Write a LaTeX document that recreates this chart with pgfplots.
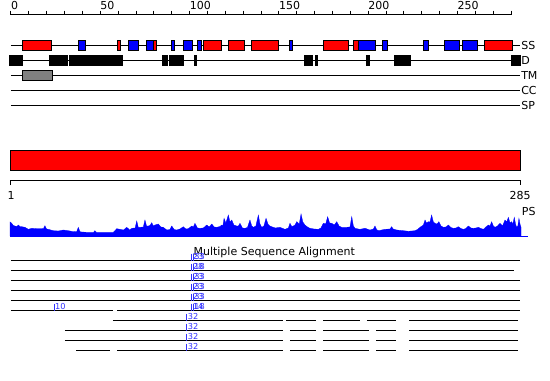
\documentclass[border=0pt]{standalone}
\usepackage{fontspec}
\setmainfont{DejaVu Sans}
\usepackage{pgfplots}
\pgfplotsset{compat=1.18}
\definecolor{mblue}{RGB}{50,50,255}
\newcommand{\bx}[5]{\addplot[draw=black, fill=#3, line width=1pt] coordinates {(#1,#4) (#2,#4) (#2,#5) (#1,#5)} -- cycle;}
\begin{document}
\begin{tikzpicture}
\begin{axis}[hide axis, scale only axis, width=550pt, height=380pt,
  xmin=-6.159, xmax=301.80, ymin=0, ymax=380, y dir=reverse, clip=false,
  unbounded coords=jump, every axis plot/.append style={line width=1pt}]
% ruler
\addplot[black] coordinates {(0,14) (280,14)};
\addplot[black, only marks, mark=|, mark size=2.25pt] coordinates {(0,12.75) (10,12.75) (20,12.75) (30,12.75) (40,12.75) (50,12.75) (60,12.75) (70,12.75) (80,12.75) (90,12.75) (100,12.75) (110,12.75) (120,12.75) (130,12.75) (140,12.75) (150,12.75) (160,12.75) (170,12.75) (180,12.75) (190,12.75) (200,12.75) (210,12.75) (220,12.75) (230,12.75) (240,12.75) (250,12.75) (260,12.75) (270,12.75) (280,12.75)};
\pgfplotsinvokeforeach{0,50,100,150,200,250}{\node[anchor=base west, inner sep=0pt, font=\fontsize{11}{13}\selectfont] at (axis cs:#1,9.5) {#1};}
% track lines
\addplot[black] coordinates {(0,45) (285,45)};
\addplot[black] coordinates {(-0.6,60.3) (285.4,60.3)};
\addplot[black] coordinates {(0,75.3) (285,75.3)};
\addplot[black] coordinates {(0,90) (285,90)};
\addplot[black] coordinates {(0,105.3) (285,105.3)};
% SS
\bx{6.3}{22.8}{red}{40}{50}
\bx{37.7}{41.8}{blue}{40}{50}
\bx{59.5}{61.2}{red}{40}{50}
\bx{65.7}{71.3}{blue}{40}{50}
\bx{75.8}{79.9}{blue}{40}{50}
\bx{79.9}{81.4}{red}{40}{50}
\bx{89.6}{91.4}{blue}{40}{50}
\bx{96.5}{101.7}{blue}{40}{50}
\bx{104.3}{106.9}{blue}{40}{50}
\bx{107.7}{118}{red}{40}{50}
\bx{121.7}{130.6}{red}{40}{50}
\bx{134.4}{149.7}{red}{40}{50}
\bx{155.7}{157.5}{blue}{40}{50}
\bx{175.1}{189.1}{red}{40}{50}
\bx{191.7}{194.5}{red}{40}{50}
\bx{194.5}{204.2}{blue}{40}{50}
\bx{207.9}{210.9}{blue}{40}{50}
\bx{230.9}{233.9}{blue}{40}{50}
\bx{242.6}{251}{blue}{40}{50}
\bx{252.7}{261.1}{blue}{40}{50}
\bx{265}{280.9}{red}{40}{50}
% D
\bx{-0.6}{6.5}{black}{55}{65.5}
\bx{21.4}{29.7}{black}{55}{65.5}
\bx{30.4}{31.7}{black}{55}{65.5}
\bx{32.5}{62.5}{black}{55}{65.5}
\bx{84.7}{87.7}{black}{55}{65.5}
\bx{88.5}{96.7}{black}{55}{65.5}
\bx{102.5}{104}{black}{55}{65.5}
\bx{164.6}{168.9}{black}{55}{65.5}
\bx{170.6}{171.7}{black}{55}{65.5}
\bx{198.8}{200.8}{black}{55}{65.5}
\bx{214.6}{223.8}{black}{55}{65.5}
\bx{280.5}{285.4}{black}{55}{65.5}
% TM
\bx{6.3}{23.1}{gray}{70}{80.5}
% right labels
\node[anchor=west, inner sep=0pt, font=\fontsize{11}{13}\selectfont] at (axis cs:285.6,45.5) {SS};
\node[anchor=west, inner sep=0pt, font=\fontsize{11}{13}\selectfont] at (axis cs:285.6,60.5) {D};
\node[anchor=west, inner sep=0pt, font=\fontsize{11}{13}\selectfont] at (axis cs:285.6,75.5) {TM};
\node[anchor=west, inner sep=0pt, font=\fontsize{11}{13}\selectfont] at (axis cs:285.6,90.3) {CC};
\node[anchor=west, inner sep=0pt, font=\fontsize{11}{13}\selectfont] at (axis cs:285.6,105.5) {SP};
% red bar and scale
\bx{0}{285}{red}{150}{170}
\addplot[black] coordinates {(0,185) (0,180.7) (285,180.7) (285,185)};
\node[anchor=center, inner sep=0pt, font=\fontsize{11}{13}\selectfont] at (axis cs:0,195) {1};
\node[anchor=center, inner sep=0pt, font=\fontsize{11}{13}\selectfont] at (axis cs:285,195) {285};
\node[anchor=west, inner sep=0pt, font=\fontsize{11}{13}\selectfont] at (axis cs:285.96,211) {PS};
% PS profile
\addplot[blue, fill=blue, line width=0.3pt] table[x=r, y expr={236-\thisrow{h}}] {
r h
-0.5 0
-0.5 14
0.4 12.7
1.3 10.5
2.2 10
3.2 9.5
4.1 11
5.0 9.5
6.0 9.3
7.8 8.7
9.7 6.7
11.6 7.7
14.4 7.3
17.2 7.3
18.2 7.5
19.0 10.3
19.9 7
20.9 6.7
23.7 5.3
26.5 5
29.3 6
32.1 5.3
34.9 4.3
36.8 4.5
37.7 8.7
38.6 4.3
39.6 4
42.4 3.7
46.2 3.7
47.0 5.3
47.9 3.7
49.8 3.7
57.3 3.7
59.2 7.3
61.0 6.7
63.0 6
64.8 8.7
66.5 6
67.6 7.7
69.5 8
70.4 15
71.3 8.5
72.2 8.7
74.1 9
75.0 16
75.9 10
76.9 10
77.8 10.5
78.8 13.3
79.7 10
80.6 11
82.5 12
83.9 9
85.3 8.7
87.2 6
89.0 6.5
90.0 10
91.4 6.5
92.8 6
94.6 7
96.5 9.3
97.9 7
99.3 7.3
101.2 10
102.1 9
103.0 12.7
104.4 8
105.8 7.7
107.7 8
109.6 11
111.0 9
112.4 12
113.8 9
115.2 8.7
117.0 9.5
118.0 11
118.6 10
119.3 17.7
120.3 13
121.7 21
122.6 14
123.6 16
124.8 11
126.4 10
127.3 10
128.2 12.7
129.6 8
131.0 7.7
132.4 8.5
133.8 16
134.8 10
135.7 8.7
137.1 10
138.5 21
139.4 12
140.4 8.7
141.6 10
142.8 17.7
143.9 12
145.0 10
146.4 9
148.0 8
150.6 8.7
153.4 6.7
155.3 8
156.2 12.7
157.2 9.5
158.1 10
159.0 11
160.0 14.3
161.4 12
162.4 22
163.4 14
164.6 11
166.0 9
167.4 7.7
169.7 7
172.1 6.7
173.5 8
174.9 12.7
176.2 12
177.3 19.3
178.4 13
179.6 12.7
181.0 11
182.4 14.3
183.7 10
185.2 8.7
187.9 8.7
189.8 9
190.8 19.3
191.7 10
192.6 7.7
195.4 6.7
198.2 7.7
201.0 6
202.9 7
203.8 10
204.7 6.5
205.7 5.3
209.4 6.7
212.2 7
213.1 9.3
214.0 7
215.9 6
219.7 5.3
222.5 4.7
226.2 5.3
227.6 6.5
229.0 8.7
230.9 11
231.8 16
232.7 13
233.7 14.3
234.6 14
235.5 21
236.5 14
237.4 12.7
238.5 12
239.6 14.3
240.8 10
242.1 8.7
243.5 9
244.9 11
246.3 8.5
247.7 7.7
249.1 8
250.5 9.3
251.9 7.5
253.3 6.7
254.7 7.5
256.1 10
257.5 8
258.9 7.7
260.3 8
261.7 8.7
263.1 7.5
264.5 6.7
265.9 9
267.3 11
268.2 10
269.1 14.3
270.1 10
271.0 8.7
272.4 10
273.8 12.7
275.2 10
276.6 16
277.5 14
278.5 18.7
279.4 13
280.3 14.3
281.0 12
281.8 18.7
282.5 12
283.1 8.7
283.8 10
284.4 17.7
285.0 12
285.6 8.7
285.6 0
};
\addplot[blue] coordinates {(-0.5,236) (289.5,236)};
% MSA
\node[anchor=base, inner sep=0pt, font=\fontsize{11}{13}\selectfont] at (axis cs:147.4,255.5) {Multiple Sequence Alignment};
\addplot[black] coordinates {(0,260.5) (285,260.5)};
\addplot[black] coordinates {(0,270.5) (281.6,270.5)};
\addplot[black] coordinates {(0,280.5) (285,280.5)};
\addplot[black] coordinates {(0,290.5) (285,290.5)};
\addplot[black] coordinates {(0,300.5) (285,300.5)};
\addplot[black] coordinates {(0,310.5) (57.1,310.5) (57.1,nan) (59.6,310.5) (285,310.5)};
\addplot[black] coordinates {(57.1,320.5) (152.3,320.5) (152.3,nan) (154.0,320.5) (170.8,320.5) (170.8,nan) (174.7,320.5) (195.4,320.5) (195.4,nan) (199.3,320.5) (215.6,320.5) (215.6,nan) (222.9,320.5) (283.9,320.5)};
\addplot[black] coordinates {(30.2,330.5) (152.3,330.5) (152.3,nan) (156.2,330.5) (170.8,330.5) (170.8,nan) (174.7,330.5) (200.5,330.5) (200.5,nan) (204.4,330.5) (215.6,330.5) (215.6,nan) (222.9,330.5) (283.9,330.5)};
\addplot[black] coordinates {(30.2,340.5) (152.3,340.5) (152.3,nan) (156.2,340.5) (170.8,340.5) (170.8,nan) (174.7,340.5) (200.5,340.5) (200.5,nan) (204.4,340.5) (215.6,340.5) (215.6,nan) (222.9,340.5) (283.9,340.5)};
\addplot[black] coordinates {(36.4,350.5) (55.4,350.5) (55.4,nan) (59.6,350.5) (152.3,350.5) (152.3,nan) (156.2,350.5) (170.8,350.5) (170.8,nan) (174.7,350.5) (200.5,350.5) (200.5,nan) (204.4,350.5) (215.6,350.5) (215.6,nan) (222.9,350.5) (283.9,350.5)};
% MSA markers
\addplot[mblue, only marks, mark=|, mark size=3.5pt, nodes near coords, point meta=explicit symbolic,
  nodes near coords style={anchor=west, inner sep=0.6pt, text=mblue, font=\fontsize{8.2}{9}\selectfont}]
  table[meta=lab] {
x y lab
101.2 257 23
102.1 257 33
101.2 267 28
102.1 267 18
101.2 277 23
102.1 277 33
101.2 287 23
102.1 287 33
101.2 297 23
102.1 297 33
24.1 307 10
101.2 307 14
102.1 307 18
98.4 317 32
98.4 327 32
98.4 337 32
98.4 347 32
};
\end{axis}
\pgfresetboundingbox
\useasboundingbox (current axis.south west) rectangle (current axis.north east);
\end{tikzpicture}
\end{document}
